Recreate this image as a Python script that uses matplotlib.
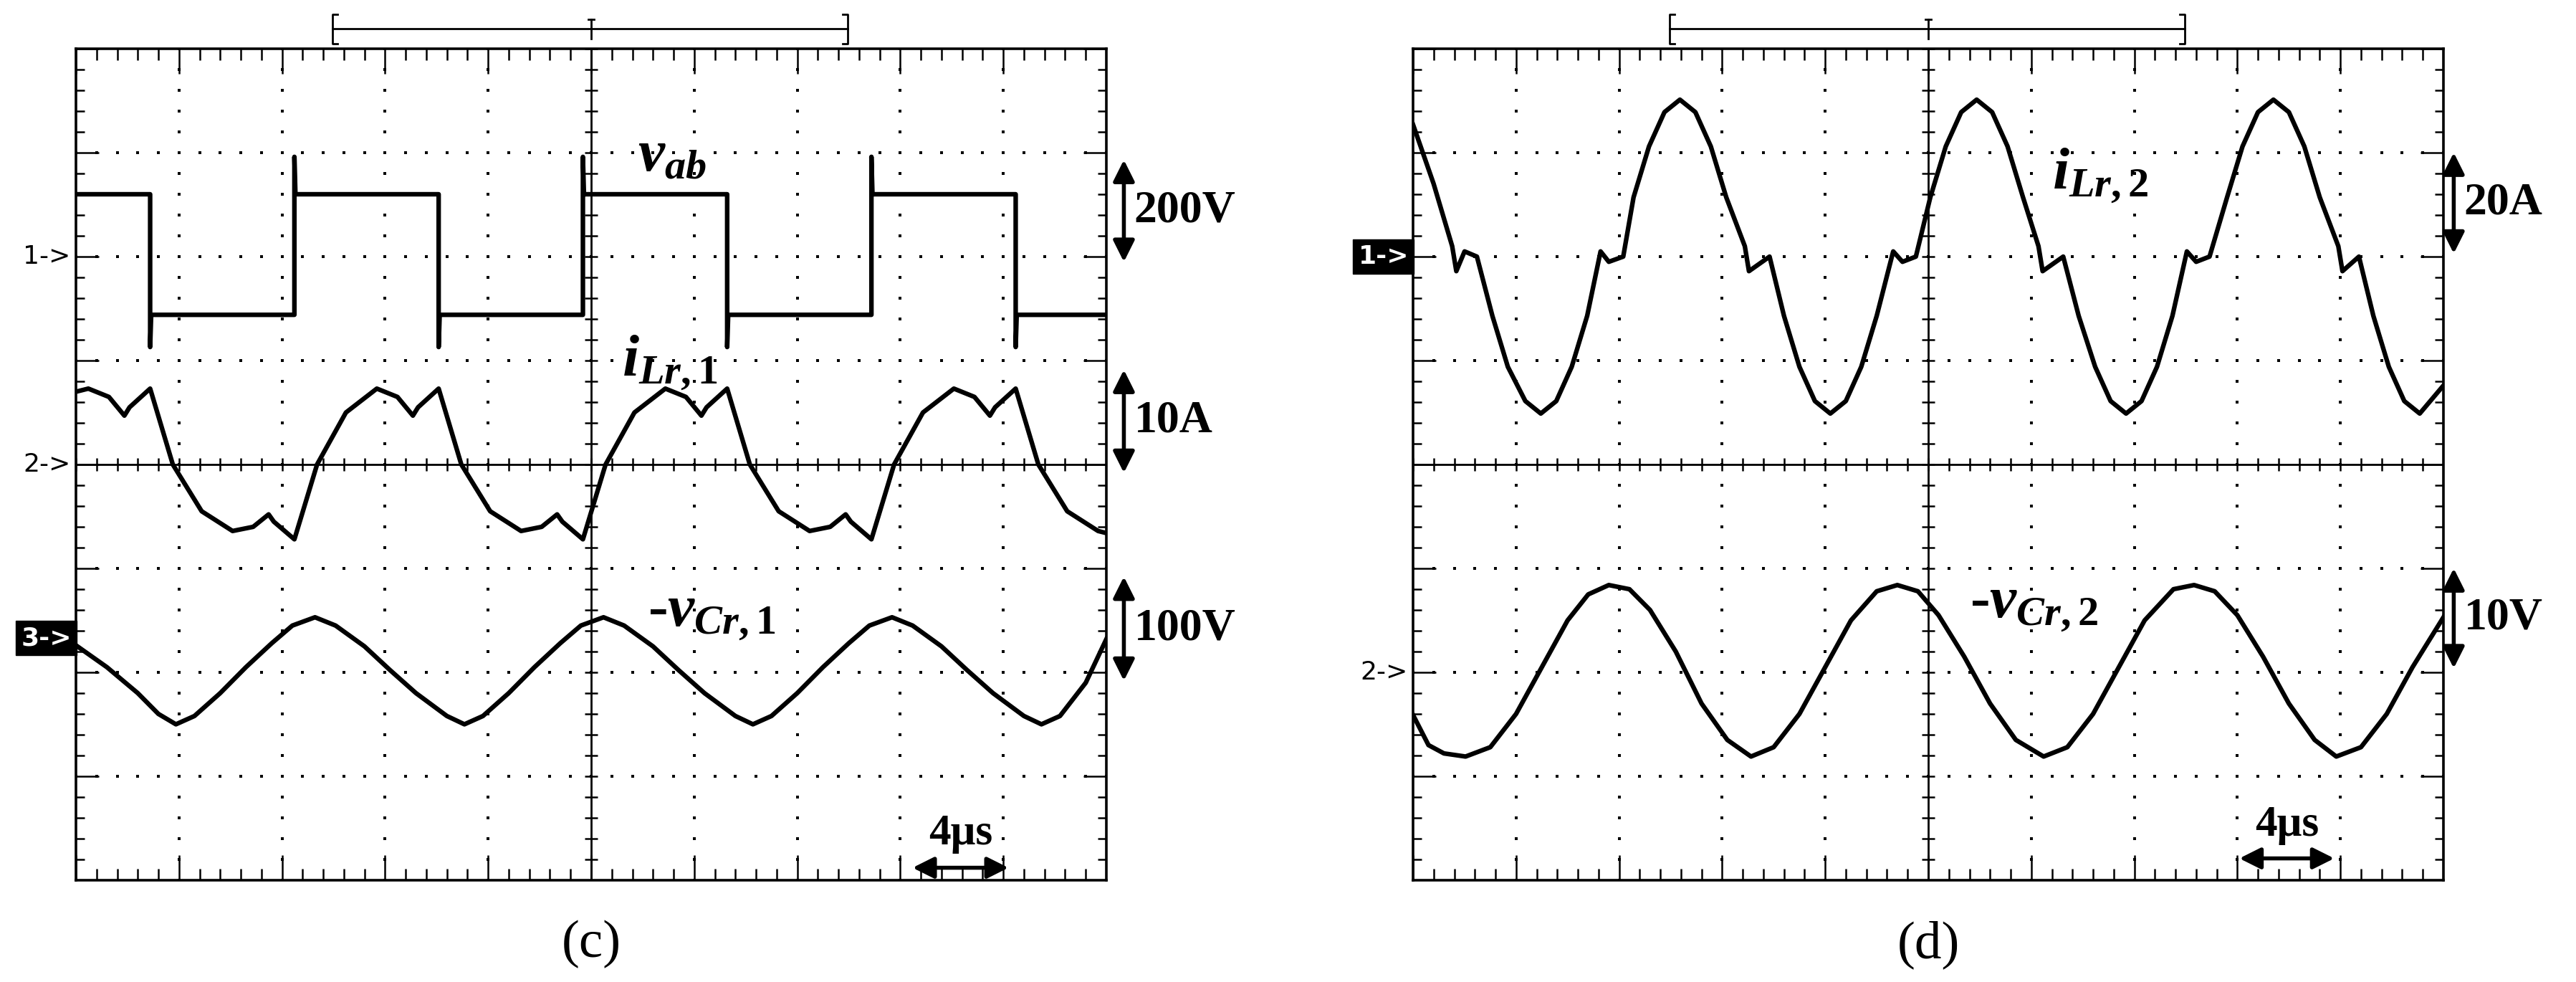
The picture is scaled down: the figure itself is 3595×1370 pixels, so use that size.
import numpy as np
import matplotlib
matplotlib.use("Agg")
import matplotlib.pyplot as plt

plt.rcParams['mathtext.fontset'] = 'custom'
plt.rcParams['mathtext.rm'] = 'Liberation Serif:bold'
plt.rcParams['mathtext.it'] = 'Liberation Serif:bold:italic'
plt.rcParams['mathtext.bf'] = 'Liberation Serif:bold'

# ---- data, in screen divisions (10 x 8 grid, centre = 0) ----
# panel (c)
vab_x = [0, 0.72, 0.72, 0.73, 2.12, 2.12, 2.13, 3.52, 3.52, 3.53, 4.92, 4.92, 4.93,
         6.32, 6.32, 6.33, 7.72, 7.72, 7.73, 9.12, 9.12, 9.13, 10]
vab_y = [2.6, 2.6, 1.13, 1.44, 1.44, 2.96, 2.6, 2.6, 1.13, 1.44, 1.44, 2.96, 2.6,
         2.6, 1.13, 1.44, 1.44, 2.96, 2.6, 2.6, 1.13, 1.44, 1.44]

il1_x = [0, 0.12, 0.32, 0.47, 0.52, 0.72, 0.94, 1.22, 1.52, 1.72, 1.87, 1.92, 2.12,
         2.34, 2.62, 2.92, 3.12, 3.27, 3.32, 3.52, 3.74, 4.02, 4.32, 4.52, 4.67, 4.72, 4.92,
         5.14, 5.42, 5.72, 5.92, 6.07, 6.12, 6.32, 6.54, 6.82, 7.12, 7.32, 7.47, 7.52, 7.72,
         7.94, 8.22, 8.52, 8.72, 8.87, 8.92, 9.12, 9.34, 9.62, 9.92, 10]
il1_y = [0.7, 0.73, 0.65, 0.47, 0.55, 0.73, 0.0, -0.45, -0.64, -0.6, -0.48, -0.55, -0.72,
         0.0, 0.5, 0.73, 0.65, 0.47, 0.55, 0.73, 0.0, -0.45, -0.64, -0.6, -0.48, -0.55, -0.72,
         0.0, 0.5, 0.73, 0.65, 0.47, 0.55, 0.73, 0.0, -0.45, -0.64, -0.6, -0.48, -0.55, -0.72,
         0.0, 0.5, 0.73, 0.65, 0.47, 0.55, 0.73, 0.0, -0.45, -0.64, -0.66]

vc1_x = [0, 0.3, 0.6, 0.8, 0.97, 1.15, 1.4, 1.65, 1.9, 2.1, 2.32, 2.52, 2.8, 3.05, 3.3,
         3.6, 3.77, 3.95, 4.2, 4.45, 4.7, 4.9, 5.12, 5.32, 5.6, 5.85, 6.1, 6.4, 6.57,
         6.75, 7.0, 7.25, 7.5, 7.7, 7.92, 8.12, 8.4, 8.65, 8.9, 9.2, 9.37, 9.55, 9.8, 10]
vc1_y = [-1.74, -1.95, -2.2, -2.4, -2.5, -2.42, -2.2, -1.95, -1.72, -1.55, -1.47, -1.55,
         -1.75, -1.98, -2.2, -2.42, -2.5, -2.42, -2.2, -1.95, -1.72, -1.55, -1.47, -1.55,
         -1.75, -1.98, -2.2, -2.42, -2.5, -2.42, -2.2, -1.95, -1.72, -1.55, -1.47, -1.55,
         -1.75, -1.98, -2.2, -2.42, -2.5, -2.42, -2.1, -1.68]

# panel (d)
il2_x = [0, 0.2, 0.38, 0.42, 0.5, 0.62, 0.77, 0.92, 1.09, 1.24, 1.39, 1.54, 1.69, 1.82,
         1.9, 2.04, 2.14, 2.29, 2.44, 2.59, 2.74, 2.89, 3.04, 3.22, 3.26, 3.46, 3.6, 3.75,
         3.9, 4.05, 4.2, 4.35, 4.5, 4.66, 4.75, 4.88, 5.02, 5.17, 5.32, 5.47, 5.62, 5.77,
         5.92, 6.07, 6.11, 6.31, 6.46, 6.62, 6.77, 6.92, 7.07, 7.22, 7.37, 7.51, 7.6, 7.73,
         7.9, 8.05, 8.2, 8.35, 8.5, 8.65, 8.8, 8.98, 9.02, 9.18, 9.32, 9.47, 9.62, 9.77, 10]
il2_y = [3.27, 2.7, 2.1, 1.86, 2.05, 2.0, 1.43, 0.94, 0.61, 0.49, 0.61, 0.94, 1.43, 2.05,
         1.95, 2.0, 2.57, 3.06, 3.39, 3.51, 3.39, 3.06, 2.57, 2.1, 1.86, 2.0, 1.43, 0.94,
         0.61, 0.49, 0.61, 0.94, 1.43, 2.05, 1.95, 2.0, 2.57, 3.06, 3.39, 3.51, 3.39, 3.06,
         2.57, 2.1, 1.86, 2.0, 1.43, 0.94, 0.61, 0.49, 0.61, 0.94, 1.43, 2.05, 1.95, 2.0,
         2.57, 3.06, 3.39, 3.51, 3.39, 3.06, 2.57, 2.1, 1.86, 2.0, 1.43, 0.94, 0.61, 0.49, 0.76]

vc2_x = [0, 0.15, 0.3, 0.51, 0.75, 1.0, 1.25, 1.5, 1.7, 1.9, 2.1, 2.3, 2.55, 2.8, 3.05,
         3.28, 3.5, 3.75, 4.0, 4.25, 4.5, 4.7, 4.9, 5.1, 5.35, 5.6, 5.85, 6.12, 6.35, 6.6,
         6.85, 7.1, 7.38, 7.58, 7.78, 8.0, 8.25, 8.5, 8.75, 8.96, 9.2, 9.45, 9.7, 10]
vc2_y = [-2.41, -2.7, -2.78, -2.81, -2.72, -2.4, -1.95, -1.5, -1.25, -1.16, -1.2, -1.4,
         -1.8, -2.3, -2.65, -2.81, -2.72, -2.4, -1.95, -1.5, -1.22, -1.16, -1.22, -1.45,
         -1.85, -2.3, -2.65, -2.81, -2.72, -2.4, -1.95, -1.5, -1.2, -1.16, -1.22, -1.45,
         -1.85, -2.3, -2.65, -2.81, -2.72, -2.4, -1.95, -1.47]

W, H = 3595, 1370
fig = plt.figure(figsize=(W / 100, H / 100), dpi=100)

ax_c = fig.add_axes([106 / W, 1 - 1228 / H, 1438 / W, 1160 / H])
ax_d = fig.add_axes([1972 / W, 1 - 1228 / H, 1438 / W, 1160 / H])


def scope_frame(ax):
    ax.set_xlim(0, 10)
    ax.set_ylim(-4, 4)
    ax.set_xticks([])
    ax.set_yticks([])
    for s in ax.spines.values():
        s.set_linewidth(2.6)
    k = dict(color='black', lw=1.8, solid_capstyle='butt')
    # dotted grid
    fine_x = np.arange(0, 10.01, 0.2)
    fine_y = np.arange(-4, 4.01, 0.2)
    for gx in range(1, 10):
        if gx != 5:
            ax.plot([gx] * len(fine_y), fine_y, 's', ms=2.4, color='black', mew=0)
    for gy in range(-3, 4):
        if gy != 0:
            ax.plot(fine_x, [gy] * len(fine_x), 's', ms=2.4, color='black', mew=0)
    # centre axes
    ax.axvline(5, color='black', lw=2.0)
    ax.axhline(0, color='black', lw=2.0)
    for t in fine_x:
        ax.plot([t, t], [-0.06, 0.06], **k)
        major = abs(t - round(t)) < 1e-6
        L = 0.24 if major else 0.11
        ax.plot([t, t], [4, 4 - L], **k)
        ax.plot([t, t], [-4, -4 + L], **k)
    for t in fine_y:
        ax.plot([4.94, 5.06], [t, t], **k)
        major = abs(t - round(t)) < 1e-6
        L = 0.22 if major else 0.08
        ax.plot([0, L], [t, t], **k)
        ax.plot([10, 10 - L], [t, t], **k)
    # top bracket
    bk = dict(color='black', lw=2.0, clip_on=False)
    ax.plot([2.49, 7.49], [4.19, 4.19], **bk)
    ax.plot([2.54, 2.49, 2.49, 2.54], [4.05, 4.05, 4.33, 4.33], **bk)
    ax.plot([7.44, 7.49, 7.49, 7.44], [4.05, 4.05, 4.33, 4.33], **bk)
    ax.plot([5, 5], [4.1, 4.28], **bk)
    ax.plot([4.97, 5.03], [4.28, 4.28], **bk)


def marker(ax, y, label, boxed=False):
    if boxed:
        ax.text(-0.04, y, label, ha='right', va='center', fontsize=26, color='white',
                fontweight='bold', clip_on=False,
                bbox=dict(boxstyle='square,pad=0.2', fc='black', ec='black'))
    else:
        ax.text(-0.05, y, label, ha='right', va='center', fontsize=26, color='black',
                clip_on=False)


def vscale(ax, x, y0, y1, label):
    ax.annotate('', xy=(x, y1), xytext=(x, y0), annotation_clip=False,
                arrowprops=dict(arrowstyle='<|-|>', lw=4, color='black', mutation_scale=45))
    ax.text(x + 0.1, (y0 + y1) / 2, label, ha='left', va='center', fontsize=46,
            fontweight='bold', family='Liberation Serif', clip_on=False)


def hscale(ax, x0, x1, y, ty):
    ax.annotate('', xy=(x1, y), xytext=(x0, y), annotation_clip=False,
                arrowprops=dict(arrowstyle='<|-|>', lw=4, color='black', mutation_scale=45))
    ax.text((x0 + x1) / 2, ty, '4μs', ha='center', va='center', fontsize=44,
            fontweight='bold', family='Liberation Serif')


tr = dict(color='black', lw=4.6, solid_joinstyle='round')
lab = dict(fontsize=60, va='center', family='Liberation Serif', fontweight='bold')

# ---- panel (c) ----
scope_frame(ax_c)
ax_c.plot(vab_x, vab_y, **tr)
ax_c.plot(il1_x, il1_y, **tr)
ax_c.plot(vc1_x, vc1_y, **tr)
ax_c.text(5.45, 2.96, r'$v_{ab}$', **lab)
ax_c.text(5.3, 0.98, r'$i_{Lr,\mathrm{1}}$', **lab)
ax_c.text(5.55, -1.45, r'-$v_{Cr,\mathrm{1}}$', **lab)
marker(ax_c, 2, '1->')
marker(ax_c, 0, '2->')
marker(ax_c, -1.67, '3->', boxed=True)
vscale(ax_c, 10.17, 1.93, 2.95, '200V')
vscale(ax_c, 10.17, -0.1, 0.93, '10A')
vscale(ax_c, 10.17, -2.1, -1.06, '100V')
hscale(ax_c, 8.1, 9.07, -3.88, -3.55)
ax_c.text(5, -4.62, '(c)', ha='center', va='center', fontsize=54,
          family='Liberation Serif', clip_on=False)

# ---- panel (d) ----
scope_frame(ax_d)
ax_d.plot(il2_x, il2_y, **tr)
ax_d.plot(vc2_x, vc2_y, **tr)
ax_d.text(6.2, 2.78, r'$i_{Lr,\mathrm{2}}$', **lab)
ax_d.text(5.4, -1.37, r'-$v_{Cr,\mathrm{2}}$', **lab)
marker(ax_d, 2, '1->', boxed=True)
marker(ax_d, -2, '2->')
vscale(ax_d, 10.1, 2.01, 3.02, '20A')
vscale(ax_d, 10.1, -1.98, -0.98, '10V')
hscale(ax_d, 8.0, 8.96, -3.79, -3.47)
ax_d.text(5, -4.62, '(d)', ha='center', va='center', fontsize=54,
          family='Liberation Serif', clip_on=False)

fig.savefig('out.png', dpi=100)
